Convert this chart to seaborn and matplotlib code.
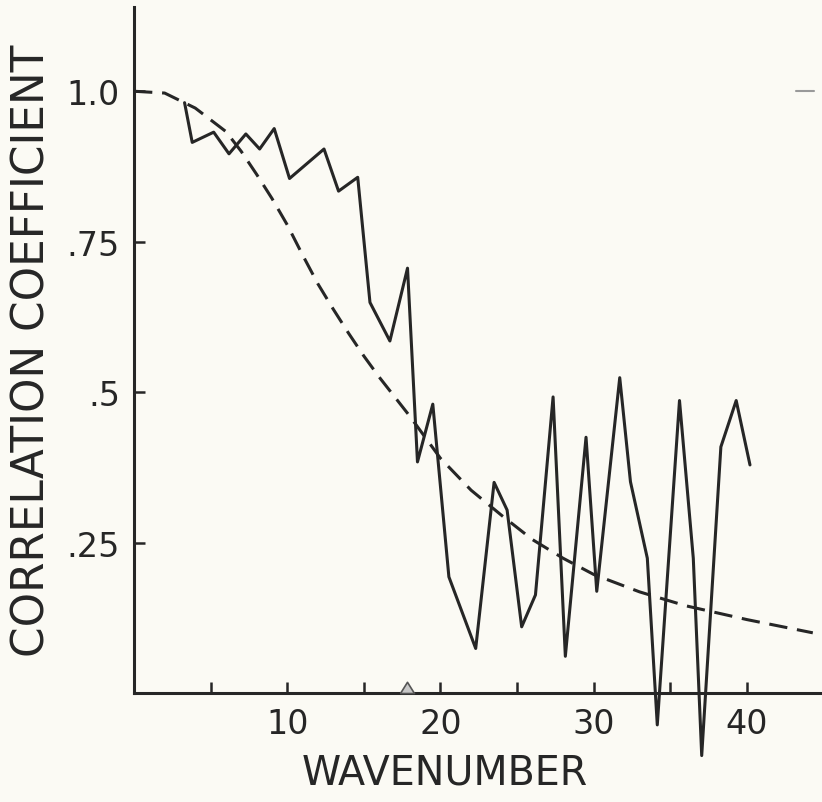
import matplotlib
matplotlib.use("Agg")
import matplotlib.pyplot as plt
import seaborn as sns
import pandas as pd
from matplotlib.path import Path

# ---- data ----
obs_wavenumber = [3.3, 3.8, 5.2, 6.2, 7.3, 8.2, 9.15, 10.15, 12.4, 13.35, 14.6,
                  15.4, 16.7, 17.85, 18.5, 19.5, 20.55, 22.3, 23.5, 24.35, 25.3,
                  26.2, 27.35, 28.15, 29.5, 30.2, 31.7, 32.4, 33.5, 34.15, 35.6,
                  36.5, 37.05, 38.3, 39.3, 40.2]
obs_corr = [0.981, 0.915, 0.932, 0.896, 0.929, 0.904, 0.938, 0.855, 0.904, 0.834,
            0.857, 0.649, 0.585, 0.706, 0.384, 0.480, 0.193, 0.074, 0.350, 0.304,
            0.110, 0.163, 0.492, 0.061, 0.425, 0.169, 0.524, 0.351, 0.224, -0.053,
            0.486, 0.224, -0.104, 0.409, 0.486, 0.379]

theory_wavenumber = [0, 2, 4, 6, 7, 8, 9, 10, 11, 12, 13, 14, 15, 16, 18, 20, 22,
                     24, 26, 28, 30, 33, 36, 40, 44.3]
theory_corr = [1.0, 0.997, 0.972, 0.933, 0.90, 0.862, 0.822, 0.778, 0.728, 0.68,
               0.638, 0.598, 0.56, 0.525, 0.46, 0.39, 0.337, 0.295, 0.255, 0.224,
               0.197, 0.168, 0.145, 0.122, 0.10]

marker_wavenumber = [17.8]
marker_corr = [0.0]

stray_mark_x = [43.2, 44.4]
stray_mark_y = [1.0, 1.0]

x_ticks = [5, 10, 15, 20, 25, 30, 35, 40]
x_tick_labels = ["", "10", "", "20", "", "30", "", "40"]
y_ticks = [0.25, 0.5, 0.75, 1.0]
y_tick_labels = [".25", ".5", ".75", "1.0"]

x_label = "WAVENUMBER"
y_label = "CORRELATION COEFFICIENT"

# ---- styling ----
sns.set_theme(style="white")
plt.rcParams["font.family"] = ["DejaVu Sans"]

ink = "#262626"
paper = "#fbfaf4"

fig = plt.figure(figsize=(8.22, 8.03), dpi=100, facecolor=paper)
ax = fig.add_axes([134 / 822, 1 - 694 / 803, 688 / 822, 686 / 803])
ax.set_facecolor(paper)

obs = pd.DataFrame({"wavenumber": obs_wavenumber, "corr": obs_corr})
theo = pd.DataFrame({"wavenumber": theory_wavenumber, "corr": theory_corr})

sns.lineplot(data=theo, x="wavenumber", y="corr", ax=ax, color=ink,
             linewidth=2.2, estimator=None, sort=False,
             linestyle=(0, (6.0, 3.2)), clip_on=False)
sns.lineplot(data=obs, x="wavenumber", y="corr", ax=ax, color=ink,
             linewidth=2.2, estimator=None, sort=False, clip_on=False)

# triangle marker sitting on the axis
tri = Path([(-1, 0), (1, 0), (0, 1.6), (-1, 0)])
ax.scatter(marker_wavenumber, marker_corr, marker=tri, s=260,
           facecolor="#c8c8c8", edgecolor="#555555", linewidth=1.2,
           zorder=5, clip_on=False)

ax.plot(stray_mark_x, stray_mark_y, color="#999999", linewidth=1.5)

ax.set_xlim(0, 44.9)
ax.set_ylim(0, 1.14)

for side in ["top", "right"]:
    ax.spines[side].set_visible(False)
for side in ["left", "bottom"]:
    ax.spines[side].set_color(ink)
    ax.spines[side].set_linewidth(2.2)

ax.set_xticks(x_ticks)
ax.set_xticklabels(x_tick_labels)
ax.set_yticks(y_ticks)
ax.set_yticklabels(y_tick_labels)
ax.tick_params(axis="both", which="major", bottom=True, left=True,
               direction="in", length=8, width=1.8,
               color=ink, labelcolor=ink, labelsize=24, pad=10)

ax.set_xlabel(x_label, fontsize=28.5, color=ink, va="center")
ax.xaxis.set_label_coords((445 - 134) / 688, -(774 - 694) / 686)
ax.set_ylabel(y_label, fontsize=31.5, color=ink, va="center")
ax.yaxis.set_label_coords((32 - 134) / 688, 0.5)

fig.savefig("out.png", dpi=100, facecolor=paper)
